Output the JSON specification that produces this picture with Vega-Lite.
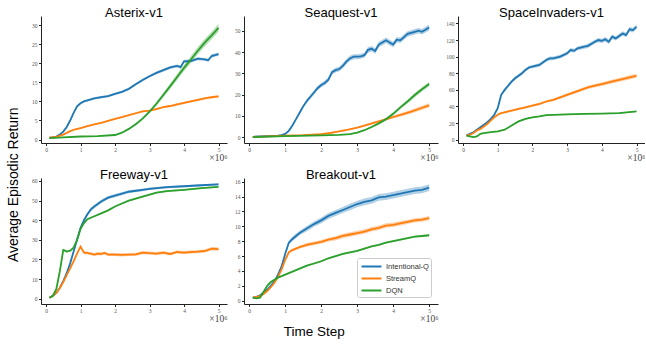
{
"$schema":"https://vega.github.io/schema/vega-lite/v6.json",
"padding":{"left":6,"top":7,"right":0,"bottom":2},
"background":"white",
"title":{"text":"Average Episodic Return","orient":"left","anchor":"middle","font":"Liberation Sans","fontSize":14,"fontWeight":"normal","color":"#000","offset":11,"dx":-12},
"datasets":{"d":[
{"p":"A","m":"Intentional-Q","x":0.1,"y":0.5,"e":0.2},{"p":"A","m":"Intentional-Q","x":0.2,"y":0.6,"e":0.2},{"p":"A","m":"Intentional-Q","x":0.3,"y":0.8,"e":0.2},{"p":"A","m":"Intentional-Q","x":0.4,"y":1.3,"e":0.2},{"p":"A","m":"Intentional-Q","x":0.5,"y":2.1,"e":0.25},{"p":"A","m":"Intentional-Q","x":0.6,"y":3.3,"e":0.3},{"p":"A","m":"Intentional-Q","x":0.7,"y":5.0,"e":0.3},{"p":"A","m":"Intentional-Q","x":0.8,"y":7.0,"e":0.3},{"p":"A","m":"Intentional-Q","x":0.9,"y":8.7,"e":0.3},{"p":"A","m":"Intentional-Q","x":1.0,"y":9.5,"e":0.3},{"p":"A","m":"Intentional-Q","x":1.1,"y":10.0,"e":0.3},{"p":"A","m":"Intentional-Q","x":1.2,"y":10.3,"e":0.3},{"p":"A","m":"Intentional-Q","x":1.4,"y":10.8,"e":0.3},{"p":"A","m":"Intentional-Q","x":1.6,"y":11.1,"e":0.3},{"p":"A","m":"Intentional-Q","x":1.8,"y":11.4,"e":0.3},{"p":"A","m":"Intentional-Q","x":2.0,"y":12.0,"e":0.3},{"p":"A","m":"Intentional-Q","x":2.2,"y":12.5,"e":0.3},{"p":"A","m":"Intentional-Q","x":2.4,"y":13.3,"e":0.3},{"p":"A","m":"Intentional-Q","x":2.6,"y":14.5,"e":0.35},{"p":"A","m":"Intentional-Q","x":2.8,"y":15.6,"e":0.35},{"p":"A","m":"Intentional-Q","x":3.0,"y":16.6,"e":0.35},{"p":"A","m":"Intentional-Q","x":3.2,"y":17.5,"e":0.35},{"p":"A","m":"Intentional-Q","x":3.4,"y":18.2,"e":0.4},{"p":"A","m":"Intentional-Q","x":3.6,"y":18.9,"e":0.4},{"p":"A","m":"Intentional-Q","x":3.8,"y":19.3,"e":0.4},{"p":"A","m":"Intentional-Q","x":3.9,"y":19.0,"e":0.4},{"p":"A","m":"Intentional-Q","x":4.0,"y":20.5,"e":0.4},{"p":"A","m":"Intentional-Q","x":4.2,"y":20.6,"e":0.4},{"p":"A","m":"Intentional-Q","x":4.4,"y":21.2,"e":0.4},{"p":"A","m":"Intentional-Q","x":4.6,"y":21.0,"e":0.4},{"p":"A","m":"Intentional-Q","x":4.7,"y":20.8,"e":0.4},{"p":"A","m":"Intentional-Q","x":4.8,"y":21.9,"e":0.45},{"p":"A","m":"Intentional-Q","x":5.0,"y":22.4,"e":0.45},
{"p":"A","m":"StreamQ","x":0.1,"y":0.5,"e":0.15},{"p":"A","m":"StreamQ","x":0.3,"y":0.7,"e":0.15},{"p":"A","m":"StreamQ","x":0.5,"y":1.3,"e":0.2},{"p":"A","m":"StreamQ","x":0.7,"y":2.2,"e":0.2},{"p":"A","m":"StreamQ","x":0.85,"y":2.7,"e":0.2},{"p":"A","m":"StreamQ","x":1.0,"y":3.0,"e":0.2},{"p":"A","m":"StreamQ","x":1.2,"y":3.5,"e":0.2},{"p":"A","m":"StreamQ","x":1.4,"y":4.0,"e":0.2},{"p":"A","m":"StreamQ","x":1.6,"y":4.4,"e":0.2},{"p":"A","m":"StreamQ","x":1.8,"y":4.9,"e":0.2},{"p":"A","m":"StreamQ","x":2.0,"y":5.4,"e":0.2},{"p":"A","m":"StreamQ","x":2.2,"y":5.9,"e":0.2},{"p":"A","m":"StreamQ","x":2.4,"y":6.4,"e":0.2},{"p":"A","m":"StreamQ","x":2.6,"y":6.9,"e":0.25},{"p":"A","m":"StreamQ","x":2.8,"y":7.4,"e":0.25},{"p":"A","m":"StreamQ","x":3.0,"y":7.6,"e":0.25},{"p":"A","m":"StreamQ","x":3.2,"y":8.0,"e":0.25},{"p":"A","m":"StreamQ","x":3.4,"y":8.5,"e":0.25},{"p":"A","m":"StreamQ","x":3.6,"y":8.8,"e":0.25},{"p":"A","m":"StreamQ","x":3.8,"y":9.2,"e":0.3},{"p":"A","m":"StreamQ","x":4.0,"y":9.6,"e":0.3},{"p":"A","m":"StreamQ","x":4.2,"y":10.0,"e":0.3},{"p":"A","m":"StreamQ","x":4.4,"y":10.4,"e":0.3},{"p":"A","m":"StreamQ","x":4.6,"y":10.8,"e":0.3},{"p":"A","m":"StreamQ","x":4.8,"y":11.1,"e":0.3},{"p":"A","m":"StreamQ","x":5.0,"y":11.3,"e":0.3},
{"p":"A","m":"DQN","x":0.1,"y":0.4,"e":0.1},{"p":"A","m":"DQN","x":0.5,"y":0.6,"e":0.1},{"p":"A","m":"DQN","x":1.0,"y":0.8,"e":0.1},{"p":"A","m":"DQN","x":1.5,"y":0.9,"e":0.1},{"p":"A","m":"DQN","x":2.0,"y":1.2,"e":0.1},{"p":"A","m":"DQN","x":2.2,"y":1.8,"e":0.15},{"p":"A","m":"DQN","x":2.4,"y":2.8,"e":0.2},{"p":"A","m":"DQN","x":2.6,"y":4.0,"e":0.25},{"p":"A","m":"DQN","x":2.8,"y":5.5,"e":0.3},{"p":"A","m":"DQN","x":3.0,"y":7.3,"e":0.4},{"p":"A","m":"DQN","x":3.2,"y":9.4,"e":0.5},{"p":"A","m":"DQN","x":3.4,"y":11.7,"e":0.6},{"p":"A","m":"DQN","x":3.6,"y":14.0,"e":0.7},{"p":"A","m":"DQN","x":3.8,"y":16.4,"e":0.8},{"p":"A","m":"DQN","x":4.0,"y":18.8,"e":0.85},{"p":"A","m":"DQN","x":4.2,"y":21.0,"e":0.9},{"p":"A","m":"DQN","x":4.4,"y":23.3,"e":0.95},{"p":"A","m":"DQN","x":4.6,"y":25.4,"e":1.0},{"p":"A","m":"DQN","x":4.8,"y":27.3,"e":1.0},{"p":"A","m":"DQN","x":5.0,"y":29.3,"e":1.0},
{"p":"S","m":"Intentional-Q","x":0.1,"y":0.2,"e":0.2},{"p":"S","m":"Intentional-Q","x":0.5,"y":0.5,"e":0.2},{"p":"S","m":"Intentional-Q","x":0.8,"y":0.8,"e":0.2},{"p":"S","m":"Intentional-Q","x":0.9,"y":1.0,"e":0.3},{"p":"S","m":"Intentional-Q","x":1.0,"y":1.6,"e":0.3},{"p":"S","m":"Intentional-Q","x":1.1,"y":3.0,"e":0.4},{"p":"S","m":"Intentional-Q","x":1.2,"y":5.5,"e":0.5},{"p":"S","m":"Intentional-Q","x":1.3,"y":8.5,"e":0.6},{"p":"S","m":"Intentional-Q","x":1.4,"y":11.5,"e":0.7},{"p":"S","m":"Intentional-Q","x":1.5,"y":14.5,"e":0.8},{"p":"S","m":"Intentional-Q","x":1.6,"y":17.0,"e":0.9},{"p":"S","m":"Intentional-Q","x":1.7,"y":19.0,"e":1.0},{"p":"S","m":"Intentional-Q","x":1.8,"y":21.0,"e":1.0},{"p":"S","m":"Intentional-Q","x":1.9,"y":23.0,"e":1.0},{"p":"S","m":"Intentional-Q","x":2.0,"y":24.5,"e":1.0},{"p":"S","m":"Intentional-Q","x":2.1,"y":25.5,"e":1.1},{"p":"S","m":"Intentional-Q","x":2.2,"y":27.0,"e":1.1},{"p":"S","m":"Intentional-Q","x":2.3,"y":30.5,"e":1.1},{"p":"S","m":"Intentional-Q","x":2.4,"y":31.5,"e":1.1},{"p":"S","m":"Intentional-Q","x":2.5,"y":32.0,"e":1.1},{"p":"S","m":"Intentional-Q","x":2.6,"y":33.5,"e":1.2},{"p":"S","m":"Intentional-Q","x":2.7,"y":35.5,"e":1.2},{"p":"S","m":"Intentional-Q","x":2.8,"y":37.0,"e":1.2},{"p":"S","m":"Intentional-Q","x":2.9,"y":37.8,"e":1.2},{"p":"S","m":"Intentional-Q","x":3.0,"y":37.8,"e":1.2},{"p":"S","m":"Intentional-Q","x":3.1,"y":38.0,"e":1.2},{"p":"S","m":"Intentional-Q","x":3.2,"y":38.5,"e":1.2},{"p":"S","m":"Intentional-Q","x":3.3,"y":41.0,"e":1.3},{"p":"S","m":"Intentional-Q","x":3.4,"y":41.5,"e":1.3},{"p":"S","m":"Intentional-Q","x":3.5,"y":40.5,"e":1.3},{"p":"S","m":"Intentional-Q","x":3.6,"y":43.5,"e":1.3},{"p":"S","m":"Intentional-Q","x":3.7,"y":44.5,"e":1.3},{"p":"S","m":"Intentional-Q","x":3.8,"y":45.5,"e":1.3},{"p":"S","m":"Intentional-Q","x":3.9,"y":44.5,"e":1.3},{"p":"S","m":"Intentional-Q","x":4.0,"y":43.5,"e":1.3},{"p":"S","m":"Intentional-Q","x":4.1,"y":45.8,"e":1.3},{"p":"S","m":"Intentional-Q","x":4.2,"y":45.5,"e":1.3},{"p":"S","m":"Intentional-Q","x":4.3,"y":47.0,"e":1.3},{"p":"S","m":"Intentional-Q","x":4.4,"y":48.5,"e":1.3},{"p":"S","m":"Intentional-Q","x":4.6,"y":49.5,"e":1.3},{"p":"S","m":"Intentional-Q","x":4.7,"y":50.0,"e":1.3},{"p":"S","m":"Intentional-Q","x":4.8,"y":49.5,"e":1.3},{"p":"S","m":"Intentional-Q","x":5.0,"y":51.5,"e":1.4},
{"p":"S","m":"StreamQ","x":0.1,"y":0.2,"e":0.1},{"p":"S","m":"StreamQ","x":0.5,"y":0.4,"e":0.1},{"p":"S","m":"StreamQ","x":1.0,"y":0.7,"e":0.1},{"p":"S","m":"StreamQ","x":1.5,"y":1.0,"e":0.15},{"p":"S","m":"StreamQ","x":2.0,"y":1.5,"e":0.2},{"p":"S","m":"StreamQ","x":2.25,"y":2.0,"e":0.2},{"p":"S","m":"StreamQ","x":2.5,"y":2.8,"e":0.25},{"p":"S","m":"StreamQ","x":2.75,"y":3.6,"e":0.3},{"p":"S","m":"StreamQ","x":3.0,"y":4.5,"e":0.35},{"p":"S","m":"StreamQ","x":3.25,"y":5.7,"e":0.4},{"p":"S","m":"StreamQ","x":3.5,"y":7.0,"e":0.5},{"p":"S","m":"StreamQ","x":3.75,"y":8.2,"e":0.6},{"p":"S","m":"StreamQ","x":4.0,"y":9.5,"e":0.7},{"p":"S","m":"StreamQ","x":4.25,"y":10.7,"e":0.8},{"p":"S","m":"StreamQ","x":4.5,"y":12.0,"e":0.9},{"p":"S","m":"StreamQ","x":4.75,"y":13.5,"e":1.0},{"p":"S","m":"StreamQ","x":5.0,"y":15.0,"e":1.0},
{"p":"S","m":"DQN","x":0.1,"y":0.1,"e":0.1},{"p":"S","m":"DQN","x":1.0,"y":0.5,"e":0.1},{"p":"S","m":"DQN","x":2.0,"y":0.9,"e":0.15},{"p":"S","m":"DQN","x":2.5,"y":1.1,"e":0.2},{"p":"S","m":"DQN","x":2.8,"y":1.5,"e":0.2},{"p":"S","m":"DQN","x":3.0,"y":2.2,"e":0.3},{"p":"S","m":"DQN","x":3.2,"y":3.3,"e":0.35},{"p":"S","m":"DQN","x":3.4,"y":4.8,"e":0.4},{"p":"S","m":"DQN","x":3.6,"y":6.5,"e":0.5},{"p":"S","m":"DQN","x":3.8,"y":8.5,"e":0.6},{"p":"S","m":"DQN","x":4.0,"y":11.0,"e":0.7},{"p":"S","m":"DQN","x":4.2,"y":14.0,"e":0.8},{"p":"S","m":"DQN","x":4.4,"y":16.8,"e":0.9},{"p":"S","m":"DQN","x":4.6,"y":19.8,"e":1.0},{"p":"S","m":"DQN","x":4.8,"y":22.5,"e":1.0},{"p":"S","m":"DQN","x":5.0,"y":25.0,"e":1.1},
{"p":"SI","m":"Intentional-Q","x":0.1,"y":5,"e":1},{"p":"SI","m":"Intentional-Q","x":0.2,"y":7,"e":1},{"p":"SI","m":"Intentional-Q","x":0.3,"y":9,"e":1},{"p":"SI","m":"Intentional-Q","x":0.4,"y":12,"e":1},{"p":"SI","m":"Intentional-Q","x":0.5,"y":15,"e":1},{"p":"SI","m":"Intentional-Q","x":0.6,"y":18,"e":1},{"p":"SI","m":"Intentional-Q","x":0.7,"y":21,"e":1},{"p":"SI","m":"Intentional-Q","x":0.8,"y":25,"e":1.2},{"p":"SI","m":"Intentional-Q","x":0.9,"y":30,"e":1.4},{"p":"SI","m":"Intentional-Q","x":1.0,"y":38,"e":1.6},{"p":"SI","m":"Intentional-Q","x":1.05,"y":46,"e":1.8},{"p":"SI","m":"Intentional-Q","x":1.1,"y":54,"e":2},{"p":"SI","m":"Intentional-Q","x":1.2,"y":60,"e":2},{"p":"SI","m":"Intentional-Q","x":1.3,"y":65,"e":2},{"p":"SI","m":"Intentional-Q","x":1.4,"y":70,"e":2},{"p":"SI","m":"Intentional-Q","x":1.5,"y":74,"e":2},{"p":"SI","m":"Intentional-Q","x":1.6,"y":77,"e":2},{"p":"SI","m":"Intentional-Q","x":1.7,"y":80,"e":2},{"p":"SI","m":"Intentional-Q","x":1.8,"y":84,"e":2},{"p":"SI","m":"Intentional-Q","x":1.9,"y":87,"e":2},{"p":"SI","m":"Intentional-Q","x":2.0,"y":88,"e":2},{"p":"SI","m":"Intentional-Q","x":2.2,"y":90,"e":2.2},{"p":"SI","m":"Intentional-Q","x":2.4,"y":96,"e":2.2},{"p":"SI","m":"Intentional-Q","x":2.5,"y":98,"e":2.2},{"p":"SI","m":"Intentional-Q","x":2.6,"y":98,"e":2.2},{"p":"SI","m":"Intentional-Q","x":2.8,"y":100,"e":2.3},{"p":"SI","m":"Intentional-Q","x":3.0,"y":104,"e":2.3},{"p":"SI","m":"Intentional-Q","x":3.1,"y":108,"e":2.4},{"p":"SI","m":"Intentional-Q","x":3.2,"y":107,"e":2.4},{"p":"SI","m":"Intentional-Q","x":3.3,"y":110,"e":2.4},{"p":"SI","m":"Intentional-Q","x":3.5,"y":112,"e":2.5},{"p":"SI","m":"Intentional-Q","x":3.6,"y":113,"e":2.5},{"p":"SI","m":"Intentional-Q","x":3.8,"y":118,"e":2.5},{"p":"SI","m":"Intentional-Q","x":3.9,"y":120,"e":2.5},{"p":"SI","m":"Intentional-Q","x":4.0,"y":119,"e":2.5},{"p":"SI","m":"Intentional-Q","x":4.1,"y":121,"e":2.6},{"p":"SI","m":"Intentional-Q","x":4.2,"y":118,"e":2.6},{"p":"SI","m":"Intentional-Q","x":4.3,"y":124,"e":2.6},{"p":"SI","m":"Intentional-Q","x":4.4,"y":122,"e":2.6},{"p":"SI","m":"Intentional-Q","x":4.5,"y":125,"e":2.7},{"p":"SI","m":"Intentional-Q","x":4.6,"y":128,"e":2.7},{"p":"SI","m":"Intentional-Q","x":4.7,"y":126,"e":2.7},{"p":"SI","m":"Intentional-Q","x":4.8,"y":133,"e":2.8},{"p":"SI","m":"Intentional-Q","x":4.9,"y":132,"e":2.8},{"p":"SI","m":"Intentional-Q","x":5.0,"y":136,"e":2.8},
{"p":"SI","m":"StreamQ","x":0.1,"y":5,"e":0.8},{"p":"SI","m":"StreamQ","x":0.2,"y":6,"e":0.8},{"p":"SI","m":"StreamQ","x":0.3,"y":8,"e":0.8},{"p":"SI","m":"StreamQ","x":0.4,"y":11,"e":0.8},{"p":"SI","m":"StreamQ","x":0.5,"y":13,"e":0.9},{"p":"SI","m":"StreamQ","x":0.6,"y":16,"e":0.9},{"p":"SI","m":"StreamQ","x":0.7,"y":19,"e":1},{"p":"SI","m":"StreamQ","x":0.8,"y":23,"e":1},{"p":"SI","m":"StreamQ","x":0.9,"y":27,"e":1},{"p":"SI","m":"StreamQ","x":1.0,"y":30,"e":1.1},{"p":"SI","m":"StreamQ","x":1.1,"y":32,"e":1.1},{"p":"SI","m":"StreamQ","x":1.2,"y":33,"e":1.2},{"p":"SI","m":"StreamQ","x":1.4,"y":35,"e":1.2},{"p":"SI","m":"StreamQ","x":1.6,"y":37,"e":1.3},{"p":"SI","m":"StreamQ","x":1.8,"y":39,"e":1.3},{"p":"SI","m":"StreamQ","x":2.0,"y":41,"e":1.4},{"p":"SI","m":"StreamQ","x":2.2,"y":43,"e":1.5},{"p":"SI","m":"StreamQ","x":2.4,"y":46,"e":1.5},{"p":"SI","m":"StreamQ","x":2.6,"y":48,"e":1.6},{"p":"SI","m":"StreamQ","x":2.8,"y":51,"e":1.7},{"p":"SI","m":"StreamQ","x":3.0,"y":54,"e":1.8},{"p":"SI","m":"StreamQ","x":3.2,"y":57,"e":1.9},{"p":"SI","m":"StreamQ","x":3.4,"y":60,"e":2},{"p":"SI","m":"StreamQ","x":3.6,"y":63,"e":2},{"p":"SI","m":"StreamQ","x":3.8,"y":65,"e":2.1},{"p":"SI","m":"StreamQ","x":4.0,"y":67,"e":2.2},{"p":"SI","m":"StreamQ","x":4.2,"y":69,"e":2.2},{"p":"SI","m":"StreamQ","x":4.4,"y":71,"e":2.3},{"p":"SI","m":"StreamQ","x":4.6,"y":73,"e":2.4},{"p":"SI","m":"StreamQ","x":4.8,"y":75,"e":2.5},{"p":"SI","m":"StreamQ","x":5.0,"y":77,"e":2.5},
{"p":"SI","m":"DQN","x":0.1,"y":5,"e":0.6},{"p":"SI","m":"DQN","x":0.2,"y":4,"e":0.6},{"p":"SI","m":"DQN","x":0.3,"y":3,"e":0.6},{"p":"SI","m":"DQN","x":0.4,"y":4,"e":0.6},{"p":"SI","m":"DQN","x":0.5,"y":7,"e":0.6},{"p":"SI","m":"DQN","x":0.6,"y":8,"e":0.6},{"p":"SI","m":"DQN","x":0.8,"y":9,"e":0.6},{"p":"SI","m":"DQN","x":1.0,"y":10,"e":0.6},{"p":"SI","m":"DQN","x":1.2,"y":12,"e":0.6},{"p":"SI","m":"DQN","x":1.4,"y":17,"e":0.6},{"p":"SI","m":"DQN","x":1.6,"y":22,"e":0.7},{"p":"SI","m":"DQN","x":1.8,"y":25,"e":0.7},{"p":"SI","m":"DQN","x":2.0,"y":27,"e":0.7},{"p":"SI","m":"DQN","x":2.2,"y":28,"e":0.7},{"p":"SI","m":"DQN","x":2.4,"y":29.5,"e":0.7},{"p":"SI","m":"DQN","x":2.6,"y":30,"e":0.7},{"p":"SI","m":"DQN","x":3.0,"y":30.5,"e":0.7},{"p":"SI","m":"DQN","x":3.5,"y":31,"e":0.7},{"p":"SI","m":"DQN","x":4.0,"y":31.5,"e":0.7},{"p":"SI","m":"DQN","x":4.5,"y":32,"e":0.7},{"p":"SI","m":"DQN","x":5.0,"y":34,"e":0.8},
{"p":"F","m":"Intentional-Q","x":0.1,"y":0.5,"e":0.3},{"p":"F","m":"Intentional-Q","x":0.2,"y":1.5,"e":0.3},{"p":"F","m":"Intentional-Q","x":0.3,"y":3,"e":0.4},{"p":"F","m":"Intentional-Q","x":0.4,"y":5.5,"e":0.5},{"p":"F","m":"Intentional-Q","x":0.5,"y":9,"e":0.6},{"p":"F","m":"Intentional-Q","x":0.6,"y":13,"e":0.7},{"p":"F","m":"Intentional-Q","x":0.7,"y":18,"e":0.8},{"p":"F","m":"Intentional-Q","x":0.8,"y":24,"e":0.8},{"p":"F","m":"Intentional-Q","x":0.9,"y":30,"e":0.9},{"p":"F","m":"Intentional-Q","x":1.0,"y":36,"e":0.9},{"p":"F","m":"Intentional-Q","x":1.1,"y":40,"e":0.9},{"p":"F","m":"Intentional-Q","x":1.2,"y":43,"e":0.9},{"p":"F","m":"Intentional-Q","x":1.3,"y":45.5,"e":0.9},{"p":"F","m":"Intentional-Q","x":1.4,"y":47,"e":0.9},{"p":"F","m":"Intentional-Q","x":1.6,"y":49.5,"e":0.9},{"p":"F","m":"Intentional-Q","x":1.8,"y":51.5,"e":0.8},{"p":"F","m":"Intentional-Q","x":2.0,"y":52.5,"e":0.8},{"p":"F","m":"Intentional-Q","x":2.2,"y":53.5,"e":0.8},{"p":"F","m":"Intentional-Q","x":2.4,"y":54.5,"e":0.7},{"p":"F","m":"Intentional-Q","x":2.6,"y":55,"e":0.7},{"p":"F","m":"Intentional-Q","x":2.8,"y":55.5,"e":0.7},{"p":"F","m":"Intentional-Q","x":3.0,"y":56,"e":0.6},{"p":"F","m":"Intentional-Q","x":3.5,"y":56.8,"e":0.6},{"p":"F","m":"Intentional-Q","x":4.0,"y":57.3,"e":0.5},{"p":"F","m":"Intentional-Q","x":4.5,"y":57.8,"e":0.5},{"p":"F","m":"Intentional-Q","x":5.0,"y":58.3,"e":0.5},
{"p":"F","m":"StreamQ","x":0.1,"y":0.5,"e":0.3},{"p":"F","m":"StreamQ","x":0.2,"y":1.5,"e":0.3},{"p":"F","m":"StreamQ","x":0.3,"y":3,"e":0.4},{"p":"F","m":"StreamQ","x":0.4,"y":5.5,"e":0.5},{"p":"F","m":"StreamQ","x":0.5,"y":8.5,"e":0.5},{"p":"F","m":"StreamQ","x":0.6,"y":12,"e":0.6},{"p":"F","m":"StreamQ","x":0.7,"y":15.5,"e":0.6},{"p":"F","m":"StreamQ","x":0.8,"y":19,"e":0.7},{"p":"F","m":"StreamQ","x":0.9,"y":23,"e":0.7},{"p":"F","m":"StreamQ","x":1.0,"y":26.5,"e":0.8},{"p":"F","m":"StreamQ","x":1.05,"y":25,"e":0.8},{"p":"F","m":"StreamQ","x":1.1,"y":23.5,"e":0.8},{"p":"F","m":"StreamQ","x":1.2,"y":23.3,"e":0.8},{"p":"F","m":"StreamQ","x":1.4,"y":22.5,"e":0.8},{"p":"F","m":"StreamQ","x":1.5,"y":23,"e":0.8},{"p":"F","m":"StreamQ","x":1.6,"y":22.8,"e":0.8},{"p":"F","m":"StreamQ","x":1.7,"y":23.3,"e":0.8},{"p":"F","m":"StreamQ","x":1.8,"y":22.5,"e":0.8},{"p":"F","m":"StreamQ","x":2.0,"y":22.5,"e":0.8},{"p":"F","m":"StreamQ","x":2.2,"y":22.3,"e":0.8},{"p":"F","m":"StreamQ","x":2.4,"y":22.5,"e":0.8},{"p":"F","m":"StreamQ","x":2.6,"y":22.6,"e":0.8},{"p":"F","m":"StreamQ","x":2.8,"y":23.5,"e":0.8},{"p":"F","m":"StreamQ","x":3.0,"y":23.2,"e":0.8},{"p":"F","m":"StreamQ","x":3.2,"y":23,"e":0.8},{"p":"F","m":"StreamQ","x":3.4,"y":23.5,"e":0.8},{"p":"F","m":"StreamQ","x":3.6,"y":22.8,"e":0.8},{"p":"F","m":"StreamQ","x":3.8,"y":23.8,"e":0.8},{"p":"F","m":"StreamQ","x":4.0,"y":23.5,"e":0.8},{"p":"F","m":"StreamQ","x":4.2,"y":23.8,"e":0.8},{"p":"F","m":"StreamQ","x":4.4,"y":24,"e":0.8},{"p":"F","m":"StreamQ","x":4.6,"y":24.3,"e":0.8},{"p":"F","m":"StreamQ","x":4.8,"y":25.5,"e":0.9},{"p":"F","m":"StreamQ","x":5.0,"y":25.3,"e":0.9},
{"p":"F","m":"DQN","x":0.1,"y":0.5,"e":0.2},{"p":"F","m":"DQN","x":0.2,"y":1.5,"e":0.3},{"p":"F","m":"DQN","x":0.3,"y":5,"e":0.4},{"p":"F","m":"DQN","x":0.4,"y":14,"e":0.5},{"p":"F","m":"DQN","x":0.5,"y":24.8,"e":0.5},{"p":"F","m":"DQN","x":0.55,"y":24.5,"e":0.4},{"p":"F","m":"DQN","x":0.6,"y":24,"e":0.4},{"p":"F","m":"DQN","x":0.7,"y":24.5,"e":0.4},{"p":"F","m":"DQN","x":0.8,"y":26,"e":0.4},{"p":"F","m":"DQN","x":0.9,"y":30,"e":0.4},{"p":"F","m":"DQN","x":1.0,"y":35.5,"e":0.4},{"p":"F","m":"DQN","x":1.1,"y":38.5,"e":0.4},{"p":"F","m":"DQN","x":1.2,"y":40.5,"e":0.4},{"p":"F","m":"DQN","x":1.4,"y":42,"e":0.4},{"p":"F","m":"DQN","x":1.6,"y":43.5,"e":0.4},{"p":"F","m":"DQN","x":1.8,"y":45,"e":0.4},{"p":"F","m":"DQN","x":2.0,"y":47,"e":0.4},{"p":"F","m":"DQN","x":2.2,"y":48.5,"e":0.4},{"p":"F","m":"DQN","x":2.4,"y":50,"e":0.4},{"p":"F","m":"DQN","x":2.6,"y":51,"e":0.4},{"p":"F","m":"DQN","x":2.8,"y":52,"e":0.4},{"p":"F","m":"DQN","x":3.0,"y":53,"e":0.4},{"p":"F","m":"DQN","x":3.2,"y":54,"e":0.4},{"p":"F","m":"DQN","x":3.5,"y":54.8,"e":0.4},{"p":"F","m":"DQN","x":4.0,"y":55.5,"e":0.4},{"p":"F","m":"DQN","x":4.5,"y":56.3,"e":0.4},{"p":"F","m":"DQN","x":5.0,"y":57,"e":0.4},
{"p":"B","m":"Intentional-Q","x":0.1,"y":0.4,"e":0.05},{"p":"B","m":"Intentional-Q","x":0.2,"y":0.5,"e":0.05},{"p":"B","m":"Intentional-Q","x":0.3,"y":0.7,"e":0.05},{"p":"B","m":"Intentional-Q","x":0.4,"y":1.1,"e":0.08},{"p":"B","m":"Intentional-Q","x":0.5,"y":1.5,"e":0.1},{"p":"B","m":"Intentional-Q","x":0.6,"y":2.0,"e":0.1},{"p":"B","m":"Intentional-Q","x":0.7,"y":2.6,"e":0.12},{"p":"B","m":"Intentional-Q","x":0.8,"y":3.5,"e":0.15},{"p":"B","m":"Intentional-Q","x":0.9,"y":4.6,"e":0.18},{"p":"B","m":"Intentional-Q","x":1.0,"y":6.3,"e":0.2},{"p":"B","m":"Intentional-Q","x":1.1,"y":7.8,"e":0.25},{"p":"B","m":"Intentional-Q","x":1.2,"y":8.3,"e":0.3},{"p":"B","m":"Intentional-Q","x":1.4,"y":9.1,"e":0.3},{"p":"B","m":"Intentional-Q","x":1.6,"y":9.7,"e":0.35},{"p":"B","m":"Intentional-Q","x":1.8,"y":10.3,"e":0.35},{"p":"B","m":"Intentional-Q","x":2.0,"y":10.8,"e":0.4},{"p":"B","m":"Intentional-Q","x":2.2,"y":11.4,"e":0.4},{"p":"B","m":"Intentional-Q","x":2.4,"y":11.8,"e":0.4},{"p":"B","m":"Intentional-Q","x":2.6,"y":12.2,"e":0.4},{"p":"B","m":"Intentional-Q","x":2.8,"y":12.6,"e":0.45},{"p":"B","m":"Intentional-Q","x":3.0,"y":13.0,"e":0.45},{"p":"B","m":"Intentional-Q","x":3.2,"y":13.3,"e":0.45},{"p":"B","m":"Intentional-Q","x":3.4,"y":13.5,"e":0.45},{"p":"B","m":"Intentional-Q","x":3.6,"y":13.9,"e":0.45},{"p":"B","m":"Intentional-Q","x":3.8,"y":14.0,"e":0.45},{"p":"B","m":"Intentional-Q","x":4.0,"y":14.2,"e":0.45},{"p":"B","m":"Intentional-Q","x":4.2,"y":14.4,"e":0.45},{"p":"B","m":"Intentional-Q","x":4.4,"y":14.6,"e":0.45},{"p":"B","m":"Intentional-Q","x":4.6,"y":14.8,"e":0.45},{"p":"B","m":"Intentional-Q","x":4.8,"y":14.9,"e":0.45},{"p":"B","m":"Intentional-Q","x":5.0,"y":15.2,"e":0.45},
{"p":"B","m":"StreamQ","x":0.1,"y":0.4,"e":0.05},{"p":"B","m":"StreamQ","x":0.2,"y":0.5,"e":0.05},{"p":"B","m":"StreamQ","x":0.3,"y":0.6,"e":0.05},{"p":"B","m":"StreamQ","x":0.4,"y":0.9,"e":0.08},{"p":"B","m":"StreamQ","x":0.5,"y":1.3,"e":0.1},{"p":"B","m":"StreamQ","x":0.6,"y":1.8,"e":0.1},{"p":"B","m":"StreamQ","x":0.7,"y":2.4,"e":0.12},{"p":"B","m":"StreamQ","x":0.8,"y":3.2,"e":0.15},{"p":"B","m":"StreamQ","x":0.9,"y":4.2,"e":0.15},{"p":"B","m":"StreamQ","x":1.0,"y":5.5,"e":0.2},{"p":"B","m":"StreamQ","x":1.1,"y":6.5,"e":0.2},{"p":"B","m":"StreamQ","x":1.2,"y":6.8,"e":0.2},{"p":"B","m":"StreamQ","x":1.4,"y":7.2,"e":0.2},{"p":"B","m":"StreamQ","x":1.6,"y":7.5,"e":0.25},{"p":"B","m":"StreamQ","x":1.8,"y":7.7,"e":0.25},{"p":"B","m":"StreamQ","x":2.0,"y":7.9,"e":0.25},{"p":"B","m":"StreamQ","x":2.2,"y":8.2,"e":0.25},{"p":"B","m":"StreamQ","x":2.4,"y":8.4,"e":0.3},{"p":"B","m":"StreamQ","x":2.6,"y":8.7,"e":0.3},{"p":"B","m":"StreamQ","x":2.8,"y":8.9,"e":0.3},{"p":"B","m":"StreamQ","x":3.0,"y":9.1,"e":0.3},{"p":"B","m":"StreamQ","x":3.2,"y":9.3,"e":0.3},{"p":"B","m":"StreamQ","x":3.4,"y":9.6,"e":0.3},{"p":"B","m":"StreamQ","x":3.6,"y":9.8,"e":0.3},{"p":"B","m":"StreamQ","x":3.8,"y":10.1,"e":0.3},{"p":"B","m":"StreamQ","x":4.0,"y":10.2,"e":0.3},{"p":"B","m":"StreamQ","x":4.2,"y":10.4,"e":0.3},{"p":"B","m":"StreamQ","x":4.4,"y":10.6,"e":0.3},{"p":"B","m":"StreamQ","x":4.6,"y":10.8,"e":0.3},{"p":"B","m":"StreamQ","x":4.8,"y":10.9,"e":0.3},{"p":"B","m":"StreamQ","x":5.0,"y":11.1,"e":0.3},
{"p":"B","m":"DQN","x":0.1,"y":0.4,"e":0.05},{"p":"B","m":"DQN","x":0.2,"y":0.3,"e":0.05},{"p":"B","m":"DQN","x":0.3,"y":0.4,"e":0.05},{"p":"B","m":"DQN","x":0.4,"y":1.2,"e":0.08},{"p":"B","m":"DQN","x":0.5,"y":2.0,"e":0.1},{"p":"B","m":"DQN","x":0.6,"y":2.5,"e":0.1},{"p":"B","m":"DQN","x":0.7,"y":2.8,"e":0.1},{"p":"B","m":"DQN","x":0.8,"y":3.1,"e":0.1},{"p":"B","m":"DQN","x":0.9,"y":3.3,"e":0.1},{"p":"B","m":"DQN","x":1.0,"y":3.5,"e":0.1},{"p":"B","m":"DQN","x":1.1,"y":3.7,"e":0.1},{"p":"B","m":"DQN","x":1.2,"y":3.9,"e":0.1},{"p":"B","m":"DQN","x":1.4,"y":4.3,"e":0.1},{"p":"B","m":"DQN","x":1.6,"y":4.7,"e":0.1},{"p":"B","m":"DQN","x":1.8,"y":5.0,"e":0.12},{"p":"B","m":"DQN","x":2.0,"y":5.3,"e":0.12},{"p":"B","m":"DQN","x":2.2,"y":5.7,"e":0.12},{"p":"B","m":"DQN","x":2.4,"y":6.0,"e":0.12},{"p":"B","m":"DQN","x":2.6,"y":6.3,"e":0.12},{"p":"B","m":"DQN","x":2.8,"y":6.5,"e":0.12},{"p":"B","m":"DQN","x":3.0,"y":6.7,"e":0.12},{"p":"B","m":"DQN","x":3.2,"y":7.0,"e":0.12},{"p":"B","m":"DQN","x":3.4,"y":7.3,"e":0.12},{"p":"B","m":"DQN","x":3.6,"y":7.5,"e":0.12},{"p":"B","m":"DQN","x":3.8,"y":7.8,"e":0.12},{"p":"B","m":"DQN","x":4.0,"y":8.0,"e":0.12},{"p":"B","m":"DQN","x":4.2,"y":8.2,"e":0.12},{"p":"B","m":"DQN","x":4.4,"y":8.4,"e":0.12},{"p":"B","m":"DQN","x":4.6,"y":8.6,"e":0.12},{"p":"B","m":"DQN","x":4.8,"y":8.7,"e":0.12},{"p":"B","m":"DQN","x":5.0,"y":8.8,"e":0.12}
]},
"data":{"name":"d"},
"resolve":{"scale":{"color":"independent"},"legend":{"color":"independent"}},
"vconcat":[{
 "title":{"text":"Time Step","orient":"bottom","anchor":"middle","font":"Liberation Sans","fontSize":13.5,"fontWeight":"normal","color":"#000","offset":2,"dx":-24},
 "spacing":7,
 "resolve":{"scale":{"color":"independent"},"legend":{"color":"independent"}},
 "vconcat":[
  {"hconcat":[
   {"title":"Asterix-v1","width":186,"height":127,"transform":[{"filter":"datum.p=='A'"}],
    "encoding":{"x":{"field":"x","type":"quantitative","scale":{"domain":[-0.145,5.245],"nice":false,"zero":false},"axis":{"values":[0,1,2,3,4,5],"format":"d","title":"×10⁶"}},
      "y":{"field":"y","type":"quantitative","scale":{"domain":[-0.9,32.4],"nice":false,"zero":false},"axis":{"values":[0,5,10,15,20,25,30],"title":null}},
      "color":{"field":"m","type":"nominal","scale":{"domain":["Intentional-Q","StreamQ","DQN"],"range":["#1f77b4","#ff7f0e","#2ca02c"]},"legend":null}},
    "layer":[
     {"mark":{"type":"errorband","band":{"opacity":0.35}},"encoding":{"yError":{"field":"e"}}},
     {"mark":{"type":"line","strokeWidth":1.8}}
    ]},
   {"title":"Seaquest-v1","width":194,"height":127,"transform":[{"filter":"datum.p=='S'"}],
    "encoding":{"x":{"field":"x","type":"quantitative","scale":{"domain":[-0.145,5.245],"nice":false,"zero":false},"axis":{"values":[0,1,2,3,4,5],"format":"d","title":"×10⁶"}},
      "y":{"field":"y","type":"quantitative","scale":{"domain":[-2.7,56.9],"nice":false,"zero":false},"axis":{"values":[0,10,20,30,40,50],"title":null}},
      "color":{"field":"m","type":"nominal","scale":{"domain":["Intentional-Q","StreamQ","DQN"],"range":["#1f77b4","#ff7f0e","#2ca02c"]},"legend":null}},
    "layer":[
     {"mark":{"type":"errorband","band":{"opacity":0.35}},"encoding":{"yError":{"field":"e"}}},
     {"mark":{"type":"line","strokeWidth":1.8}}
    ]},
   {"title":"SpaceInvaders-v1","width":187,"height":127,"transform":[{"filter":"datum.p=='SI'"}],
    "encoding":{"x":{"field":"x","type":"quantitative","scale":{"domain":[-0.145,5.245],"nice":false,"zero":false},"axis":{"values":[0,1,2,3,4,5],"format":"d","title":"×10⁶"}},
      "y":{"field":"y","type":"quantitative","scale":{"domain":[-4,149],"nice":false,"zero":false},"axis":{"values":[0,20,40,60,80,100,120,140],"title":null}},
      "color":{"field":"m","type":"nominal","scale":{"domain":["Intentional-Q","StreamQ","DQN"],"range":["#1f77b4","#ff7f0e","#2ca02c"]},"legend":null}},
    "layer":[
     {"mark":{"type":"errorband","band":{"opacity":0.35}},"encoding":{"yError":{"field":"e"}}},
     {"mark":{"type":"line","strokeWidth":1.8}}
    ]}
  ],"spacing":7,"resolve":{"scale":{"color":"independent"},"legend":{"color":"independent"}}},
  {"hconcat":[
   {"title":"Freeway-v1","width":186,"height":126,"transform":[{"filter":"datum.p=='F'"}],
    "encoding":{"x":{"field":"x","type":"quantitative","scale":{"domain":[-0.145,5.245],"nice":false,"zero":false},"axis":{"values":[0,1,2,3,4,5],"format":"d","title":"×10⁶"}},
      "y":{"field":"y","type":"quantitative","scale":{"domain":[-2.7,61.5],"nice":false,"zero":false},"axis":{"values":[0,10,20,30,40,50,60],"title":null}},
      "color":{"field":"m","type":"nominal","scale":{"domain":["Intentional-Q","StreamQ","DQN"],"range":["#1f77b4","#ff7f0e","#2ca02c"]},"legend":null}},
    "layer":[
     {"mark":{"type":"errorband","band":{"opacity":0.35}},"encoding":{"yError":{"field":"e"}}},
     {"mark":{"type":"line","strokeWidth":1.8}}
    ]},
   {"title":"Breakout-v1","width":194,"height":126,"transform":[{"filter":"datum.p=='B'"}],
    "encoding":{"x":{"field":"x","type":"quantitative","scale":{"domain":[-0.145,5.245],"nice":false,"zero":false},"axis":{"values":[0,1,2,3,4,5],"format":"d","title":"×10⁶"}},
      "y":{"field":"y","type":"quantitative","scale":{"domain":[-0.45,16.5],"nice":false,"zero":false},"axis":{"values":[0,2,4,6,8,10,12,14,16],"title":null}},
      "color":{"field":"m","type":"nominal","scale":{"domain":["Intentional-Q","StreamQ","DQN"],"range":["#1f77b4","#ff7f0e","#2ca02c"]},
        "legend":{"orient":"bottom-right","offset":7,"title":null,"symbolType":"M-1.9,0H1.9","symbolSize":110,"symbolStrokeWidth":2,"symbolOpacity":1,"symbolOffset":6,"labelOffset":8,"labelFont":"Liberation Sans","labelFontSize":7.5,"labelColor":"#333","strokeColor":"#ccc","fillColor":"rgba(255,255,255,0.85)","padding":2,"cornerRadius":2,"rowPadding":1}}},
    "layer":[
     {"mark":{"type":"errorband","band":{"opacity":0.35}},"encoding":{"yError":{"field":"e"}}},
     {"mark":{"type":"line","strokeWidth":1.8}}
    ]}
  ],"spacing":7,"resolve":{"scale":{"color":"independent"},"legend":{"color":"independent"}}}
 ]
}],
"config":{
 "view":{"stroke":null},
 "axis":{"grid":false,"labelOverlap":false,"domainColor":"#222","tickColor":"#222","tickSize":2.5,"domainWidth":1,"labelFont":"Liberation Serif","labelFontSize":5.5,"labelColor":"#555","labelPadding":1.5,"titleFont":"Liberation Serif","titleFontSize":9.5,"titleFontWeight":"normal","titleColor":"#444"},
 "axisX":{"titleAnchor":"end","titlePadding":0},
 "title":{"font":"Liberation Sans","fontSize":13,"fontWeight":"normal","color":"#000","offset":-4}
}
}
